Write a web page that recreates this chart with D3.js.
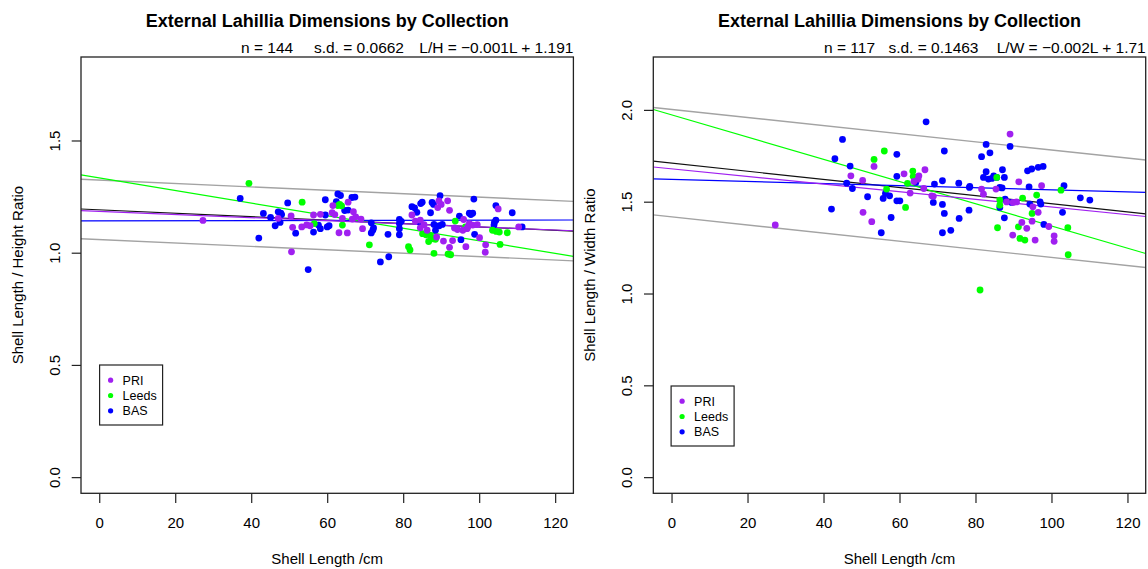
<!DOCTYPE html>
<html><head><meta charset="utf-8">
<script src="https://cdn.jsdelivr.net/npm/d3@7"></script>
<style>
body{margin:0;background:#fff;}
svg text{font-family:"Liberation Sans",Arial,Helvetica,sans-serif;fill:#000;}
</style></head><body>
<svg id="chart" width="1148" height="569"></svg>
<script>
const collections = ["PRI", "Leeds", "BAS"];
const colours = ["#A020F0", "#00FF00", "#0000FF"];
const xTicks = [0, 20, 40, 60, 80, 100, 120];
const yTicksHeight = [0, 0.5, 1, 1.5];
const yTicksWidth = [0, 0.5, 1, 1.5, 2];

// Shell length (cm) and length/height ratio, per collection
const heightPRI = [[27.3,1.144],[50.5,1.164],[47.1,1.153],[50.9,1.113],[53.3,1.115],[54.6,1.124],[50.6,1.004],
  [56.4,1.168],[58.2,1.171],[61.5,1.210],[65.5,1.225],[61.3,1.178],[66.9,1.183],[64.0,1.153],[66.6,1.150],
  [68.9,1.150],[69.3,1.107],[63.1,1.089],[65.3,1.088],[82.3,1.168],[83.2,1.141],[84.5,1.145],[89.4,1.231],
  [91.7,1.231],[89.1,1.201],[92.2,1.189],[105.0,1.195],[84.5,1.111],[86.3,1.100],[88.8,1.070],[90.6,1.052],
  [93.0,1.054],[92.2,1.024],[95.9,1.148],[97.4,1.130],[98.3,1.123],[94.3,1.103],[95.7,1.100],[96.8,1.107],
  [100.1,1.067],[96.5,1.027],[101.7,1.035],[101.6,1.002],[110.4,1.115],[62.0,1.170],[67.5,1.160],[90.0,1.215],
  [93.5,1.110],[97.0,1.115],[85.5,1.125],[99.5,1.125],[55.5,1.120]];
const heightLeeds = [[39.4,1.309],[53.4,1.225],[62.8,1.210],[63.8,1.209],[64.0,1.123],[56.6,1.130],[71.1,1.035],
  [85.1,1.085],[87.2,1.077],[86.7,1.050],[87.9,1.062],[81.4,1.027],[81.8,1.012],[88.1,0.997],[91.8,0.994],
  [92.5,0.991],[93.7,1.141],[96.4,1.115],[105.5,1.037],[103.5,1.100],[105.3,1.092],[107.4,1.089],[63.3,1.215],
  [86.0,1.080],[92.0,0.995],[104.5,1.095],[88.5,1.060]];
const heightBAS = [[37.1,1.242],[42.0,1.065],[49.6,1.222],[43.2,1.175],[45.1,1.157],[47.1,1.182],[47.8,1.176],
  [47.6,1.135],[46.3,1.120],[51.7,1.087],[55.0,0.925],[59.5,1.236],[62.8,1.262],[62.4,1.228],[66.5,1.246],
  [67.3,1.248],[64.6,1.188],[59.5,1.168],[71.6,1.133],[72.0,1.100],[71.6,1.088],[60.0,1.115],[58.2,1.107],
  [56.4,1.092],[57.7,1.123],[76.0,1.082],[74.0,0.959],[76.2,0.982],[79.0,1.148],[79.0,1.130],[79.0,1.107],
  [79.0,1.080],[82.3,1.205],[84.6,1.219],[83.6,1.180],[87.6,1.224],[87.2,1.178],[89.7,1.254],[98.6,1.239],
  [104.4,1.210],[108.7,1.178],[88.1,1.126],[90.3,1.126],[88.5,1.100],[84.5,1.133],[94.8,1.163],[97.4,1.176],
  [98.3,1.176],[95.2,1.058],[98.8,1.082],[103.9,1.123],[104.4,1.145],[111.3,1.115],[48.0,1.170],[63.5,1.255],
  [79.5,1.140],[83.0,1.200],[88.0,1.215],[97.8,1.170],[60.5,1.120],[72.2,1.110],[89.5,1.120],[85.0,1.225],
  [65.5,1.190],[104.0,1.135]];

// Shell length (cm) and length/width ratio, per collection
const widthPRI = [[53.3,1.692],[47.2,1.641],[50.3,1.616],[61.2,1.652],[64.9,1.623],[62.8,1.547],[50.4,1.442],
  [52.7,1.391],[27.3,1.373],[65.1,1.641],[66.7,1.674],[66.4,1.572],[68.5,1.532],[68.9,1.529],[89.1,1.868],
  [81.6,1.569],[82.1,1.541],[85.4,1.569],[91.4,1.608],[97.4,1.587],[88.2,1.499],[89.9,1.496],[90.8,1.499],
  [95.1,1.472],[96.5,1.442],[94.9,1.394],[99.3,1.365],[92.2,1.387],[93.5,1.355],[89.8,1.318],[100.7,1.314],
  [100.7,1.284],[95.7,1.291],[63.8,1.610]];
const widthLeeds = [[53.3,1.730],[56.0,1.776],[56.6,1.569],[63.5,1.667],[63.6,1.638],[62.1,1.600],[61.6,1.469],
  [85.6,1.632],[102.5,1.563],[92.4,1.520],[96.1,1.536],[86.4,1.509],[86.4,1.481],[94.9,1.436],[85.8,1.358],
  [91.3,1.363],[91.7,1.300],[93.0,1.291],[104.3,1.358],[104.4,1.211],[81.2,1.019]];
const widthBAS = [[45.0,1.839],[43.0,1.734],[47.0,1.694],[59.3,1.758],[46.1,1.601],[47.6,1.572],[51.6,1.527],
  [55.7,1.518],[56.3,1.545],[57.4,1.532],[59.3,1.505],[60.1,1.505],[59.3,1.638],[64.3,1.605],[42.1,1.460],
  [57.8,1.414],[55.2,1.331],[67.0,1.935],[69.2,1.596],[71.3,1.614],[68.9,1.496],[71.3,1.485],[71.8,1.436],
  [75.7,1.409],[78.3,1.454],[71.3,1.331],[73.5,1.344],[71.8,1.776],[75.6,1.601],[78.5,1.583],[78.4,1.578],
  [81.6,1.745],[82.8,1.812],[83.8,1.766],[82.8,1.663],[82.1,1.632],[83.4,1.623],[84.3,1.627],[85.6,1.632],
  [87.1,1.674],[87.6,1.632],[89.1,1.801],[86.4,1.578],[94.1,1.581],[93.7,1.668],[94.8,1.678],[96.5,1.687],
  [97.8,1.692],[103.3,1.587],[107.6,1.521],[110.1,1.509],[87.8,1.514],[89.5,1.496],[94.3,1.487],[97.0,1.499],
  [97.2,1.487],[86.4,1.469],[102.9,1.442],[87.6,1.412],[98.0,1.376],[84.8,1.640],[87.0,1.575]];

// Linear fits: per collection (PRI, Leeds, BAS) and for all shells
const heightFitIntercepts = [1.184, 1.333, 1.142];
const heightFitSlopes = [-0.00069, -0.0028, 0.00003];
const heightAllFit = [1.191, -0.00076];
const heightStats = [144, 0.0662];
const widthFitIntercepts = [1.679, 1.973, 1.622];
const widthFitSlopes = [-0.00208, -0.00605, -0.00057];
const widthAllFit = [1.71, -0.00221];
const widthStats = [117, 0.1463];

const svg = d3.select("#chart");
const fmt = v => String(+v.toFixed(3)).replace("-", "\u2212");

function panel(cfg) {
  const top = 57, bottom = 493.3, width = 492.4;
  const x = d3.scaleLinear().domain([-4.8, 124.8]).range([cfg.left, cfg.left + width]);
  const y = d3.scaleLinear().domain([-0.04 * cfg.ymax, 1.04 * cfg.ymax]).range([bottom, top]);
  const g = svg.append("g");

  const clipId = "clip-" + cfg.id;
  svg.append("clipPath").attr("id", clipId).append("rect")
    .attr("x", cfg.left).attr("y", top).attr("width", width).attr("height", bottom - top);

  // fitted lines
  const lines = g.append("g").attr("clip-path", `url(#${clipId})`);
  const xs = x.domain();
  const abline = (a, b, colour, w) => lines.append("line")
    .attr("x1", x(xs[0])).attr("x2", x(xs[1]))
    .attr("y1", y(a + b * xs[0])).attr("y2", y(a + b * xs[1]))
    .attr("stroke", colour).attr("stroke-width", w);
  const [a0, b0] = cfg.allFit;
  const sd = cfg.stats[1];
  abline(a0 + 2 * sd, b0, "#a3a3a3", 1.4);
  abline(a0 - 2 * sd, b0, "#a3a3a3", 1.4);
  abline(a0, b0, "#111", 1.2);
  [2, 1, 0].forEach(i => abline(cfg.intercepts[i], cfg.slopes[i], colours[i], 1.2));

  // points
  const pts = g.append("g");
  [2, 1, 0].forEach(i => {
    pts.selectAll(null).data(cfg.series[i]).join("circle")
      .attr("cx", d => x(d[0])).attr("cy", d => y(d[1])).attr("r", 3.4)
      .attr("fill", colours[i]);
  });

  // frame
  g.append("rect").attr("x", cfg.left).attr("y", top).attr("width", width).attr("height", bottom - top)
    .attr("fill", "none").attr("stroke", "#222").attr("stroke-width", 1.3);

  // x axis
  const xa = g.append("g").attr("transform", `translate(0,${bottom})`)
    .call(d3.axisBottom(x).tickValues(xTicks).tickSize(9.6).tickPadding(14).tickFormat(d3.format("d")));
  xa.select(".domain").remove();
  xa.selectAll("line").attr("stroke", "#222").attr("stroke-width", 1.2);
  xa.selectAll("text").attr("font-size", 15).attr("font-family", null);

  // y axis with labels parallel to the axis
  const ya = g.append("g").attr("transform", `translate(${cfg.left},0)`)
    .call(d3.axisLeft(y).tickValues(cfg.yTicks).tickSize(9.3).tickFormat(d3.format(".1f")));
  ya.select(".domain").remove();
  ya.selectAll("line").attr("stroke", "#222").attr("stroke-width", 1.2);
  ya.selectAll("text").attr("font-size", 15).attr("font-family", null)
    .attr("transform", "rotate(-90)").attr("x", 0).attr("y", -21.5).attr("dy", 0)
    .attr("text-anchor", "middle");

  // titles
  const cx = cfg.left + width / 2;
  g.append("text").attr("x", cx).attr("y", 26.5).attr("text-anchor", "middle")
    .attr("font-size", 18).attr("font-weight", "bold")
    .text("External Lahillia Dimensions by Collection");
  g.append("text").attr("x", cfg.nX).attr("y", 52.5).attr("font-size", 15.5)
    .text(`n = ${cfg.stats[0]}`);
  g.append("text").attr("x", cfg.sdX).attr("y", 52.5).attr("font-size", 15.5).attr("text-anchor", "end")
    .text(`s.d. = ${cfg.stats[1]}`);
  g.append("text").attr("x", cfg.left + width).attr("y", 52.5).attr("font-size", 15.5).attr("text-anchor", "end")
    .text(`${cfg.ratio} = ${fmt(b0)}L + ${fmt(a0)}`);
  g.append("text").attr("x", cx).attr("y", 564).attr("text-anchor", "middle").attr("font-size", 15)
    .text("Shell Length /cm");
  g.append("text").attr("transform", `translate(${cfg.left - 58.5},${(top + bottom) / 2}) rotate(-90)`)
    .attr("text-anchor", "middle").attr("font-size", 15).text(cfg.yTitle);

  // legend
  const lg = g.append("g");
  lg.append("rect").attr("x", cfg.legend[0]).attr("y", cfg.legend[1]).attr("width", 63).attr("height", 60)
    .attr("fill", "#fff").attr("stroke", "#222").attr("stroke-width", 1.2);
  collections.forEach((c, i) => {
    const ry = cfg.legend[1] + 15.2 + i * 15.3;
    lg.append("circle").attr("cx", cfg.legend[0] + 11).attr("cy", ry).attr("r", 2.6).attr("fill", colours[i]);
    lg.append("text").attr("x", cfg.legend[0] + 23).attr("y", ry + 4.5).attr("font-size", 12.5).text(c);
  });
}

panel({
  id: "height", left: 81, ymax: 1.8, yTicks: yTicksHeight,
  series: [heightPRI, heightLeeds, heightBAS],
  intercepts: heightFitIntercepts, slopes: heightFitSlopes, allFit: heightAllFit, stats: heightStats,
  ratio: "L/H", yTitle: "Shell Length / Height Ratio", nX: 241, sdX: 404, legend: [99.6, 365]
});
panel({
  id: "width", left: 653.3, ymax: 2.2, yTicks: yTicksWidth,
  series: [widthPRI, widthLeeds, widthBAS],
  intercepts: widthFitIntercepts, slopes: widthFitSlopes, allFit: widthAllFit, stats: widthStats,
  ratio: "L/W", yTitle: "Shell Length / Width Ratio", nX: 824, sdX: 978.5, legend: [671.1, 386]
});
</script>
</body></html>
